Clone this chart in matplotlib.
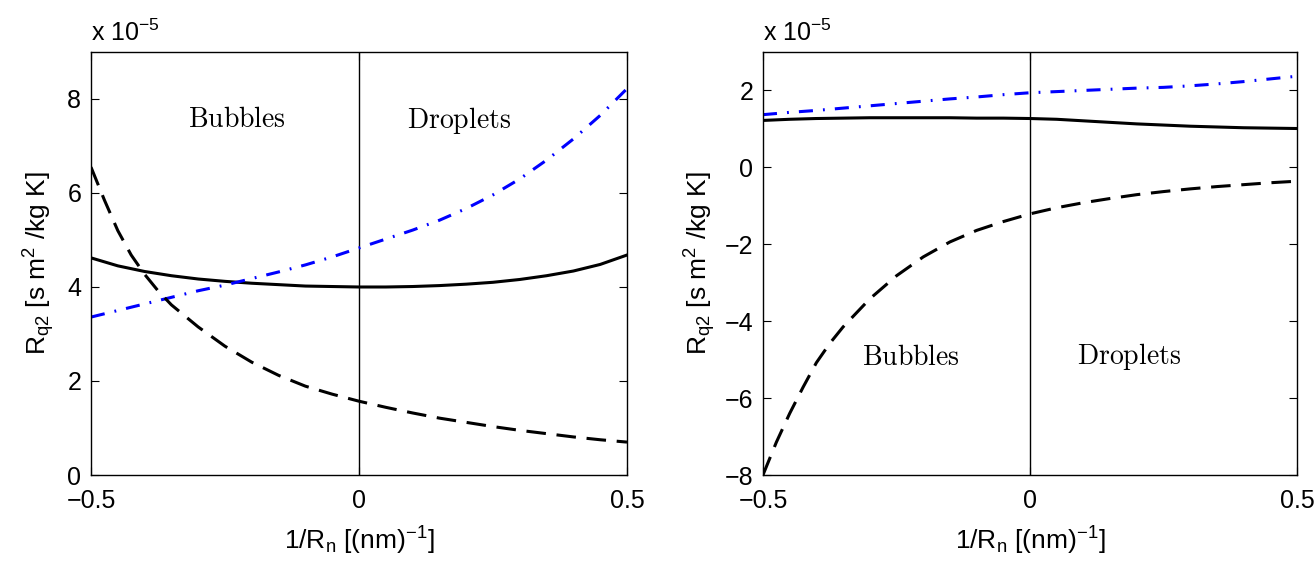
import numpy as np
import matplotlib
matplotlib.use('Agg')
import matplotlib.pyplot as plt

plt.rcParams['font.family'] = ['Liberation Sans', 'DejaVu Sans']
plt.rcParams['mathtext.fontset'] = 'custom'
plt.rcParams['mathtext.rm'] = 'Liberation Sans'
plt.rcParams['mathtext.it'] = 'Liberation Sans'

# Daten (Einheiten von 1e-5)
x = [-0.5, -0.45, -0.4, -0.35, -0.3, -0.25, -0.2, -0.15, -0.1, -0.05, 0.0,
     0.05, 0.1, 0.15, 0.2, 0.25, 0.3, 0.35, 0.4, 0.45, 0.5]
# feineres Raster fuer die gestrichelten Kurven (steil am linken Rand)
x_dash = [-0.5, -0.475, -0.45, -0.425, -0.4, -0.375, -0.35, -0.3, -0.25, -0.2,
          -0.15, -0.1, -0.05, 0.0, 0.05, 0.1, 0.15, 0.2, 0.25, 0.3, 0.35, 0.4,
          0.45, 0.5]

left_solid = [4.62, 4.45, 4.33, 4.24, 4.17, 4.12, 4.08, 4.05, 4.02, 4.01, 4.00,
              4.00, 4.01, 4.03, 4.06, 4.10, 4.16, 4.24, 4.34, 4.48, 4.68]
left_dashdot = [3.36, 3.50, 3.64, 3.78, 3.92, 4.04, 4.18, 4.32, 4.47, 4.64, 4.83,
                5.02, 5.21, 5.42, 5.67, 5.96, 6.30, 6.70, 7.15, 7.65, 8.22]
left_dashed = [6.55, 5.85, 5.20, 4.68, 4.27, 3.92, 3.62, 3.15, 2.74, 2.40,
               2.12, 1.89, 1.72, 1.57, 1.44, 1.32, 1.21, 1.12, 1.03, 0.95, 0.88,
               0.81, 0.75, 0.70]

right_solid = [1.22, 1.25, 1.27, 1.28, 1.29, 1.29, 1.29, 1.29, 1.28, 1.28, 1.27,
               1.25, 1.21, 1.17, 1.13, 1.10, 1.07, 1.05, 1.03, 1.02, 1.01]
right_dashdot = [1.37, 1.43, 1.48, 1.54, 1.60, 1.66, 1.72, 1.78, 1.83, 1.89, 1.94,
                 1.97, 2.00, 2.03, 2.06, 2.08, 2.12, 2.17, 2.23, 2.30, 2.37]
right_dashed = [-8.0, -7.15, -6.40, -5.72, -5.08, -4.58, -4.15, -3.42, -2.82, -2.33,
                -1.94, -1.64, -1.41, -1.21, -1.05, -0.92, -0.81, -0.71, -0.63, -0.56,
                -0.50, -0.45, -0.40, -0.36]

fig = plt.figure(figsize=(13.15, 5.62), dpi=100)
ax1 = fig.add_axes([0.0692, 0.1548, 0.4076, 0.7527])
ax2 = fig.add_axes([0.5802, 0.1548, 0.4061, 0.7527])

panels = [
    (ax1, left_solid, left_dashdot, left_dashed, (0, 9), [0, 2, 4, 6, 8],
     (-0.228, 7.55), (0.187, 7.55), -0.064),
    (ax2, right_solid, right_dashdot, right_dashed, (-8, 3), [-8, -6, -4, -2, 0, 2],
     (-0.223, -4.95), (0.185, -4.93), -0.084),
]

for ax, solid, dashdot, dashed, ylim, yticks, pos_b, pos_d, ylab_x in panels:
    ax.axvline(0, color='black', lw=1.0)
    ax.plot(x, solid, color='black', lw=2.2)
    ax.plot(x, dashdot, color='blue', lw=2.2, linestyle=(0, (4.6, 3.3, 0.6, 3.3)))
    ax.plot(x_dash, dashed, color='black', lw=2.2, linestyle=(0, (6.4, 3.5)))

    ax.set_xlim(-0.5, 0.5)
    ax.set_ylim(*ylim)
    ax.set_xticks([-0.5, 0, 0.5])
    ax.set_xticklabels(['\u22120.5', '0', '0.5'])
    ax.set_yticks(yticks)
    ax.set_yticklabels([('\u2212%d' % -t) if t < 0 else '%d' % t for t in yticks])
    ax.tick_params(direction='in', top=True, right=True, length=6, width=0.8,
                   labelsize=18)
    ax.tick_params(axis='x', pad=10)
    ax.tick_params(axis='y', pad=7)
    for sp in ax.spines.values():
        sp.set_linewidth(1.0)

    ax.text(pos_b[0], pos_b[1], r'$\mathrm{Bubbles}$', math_fontfamily='cm',
            fontsize=20, ha='center', va='center')
    ax.text(pos_d[0], pos_d[1], r'$\mathrm{Droplets}$', math_fontfamily='cm',
            fontsize=20, ha='center', va='center')

    ax.text(0.0, 1.015, r'x 10$^{-5}$', transform=ax.transAxes,
            fontsize=18, ha='left', va='bottom')

    ax.set_xlabel(r'1/R$_{\mathrm{n}}$ [(nm)$^{-1}$]', fontsize=19)
    ax.set_ylabel(r'R$_{\mathrm{q2}}$ [s m$^{\mathrm{2}}$ /kg K]', fontsize=19)
    ax.xaxis.set_label_coords(0.5, -0.118)
    ax.yaxis.set_label_coords(ylab_x, 0.5)

fig.savefig('out.png', dpi=100)
